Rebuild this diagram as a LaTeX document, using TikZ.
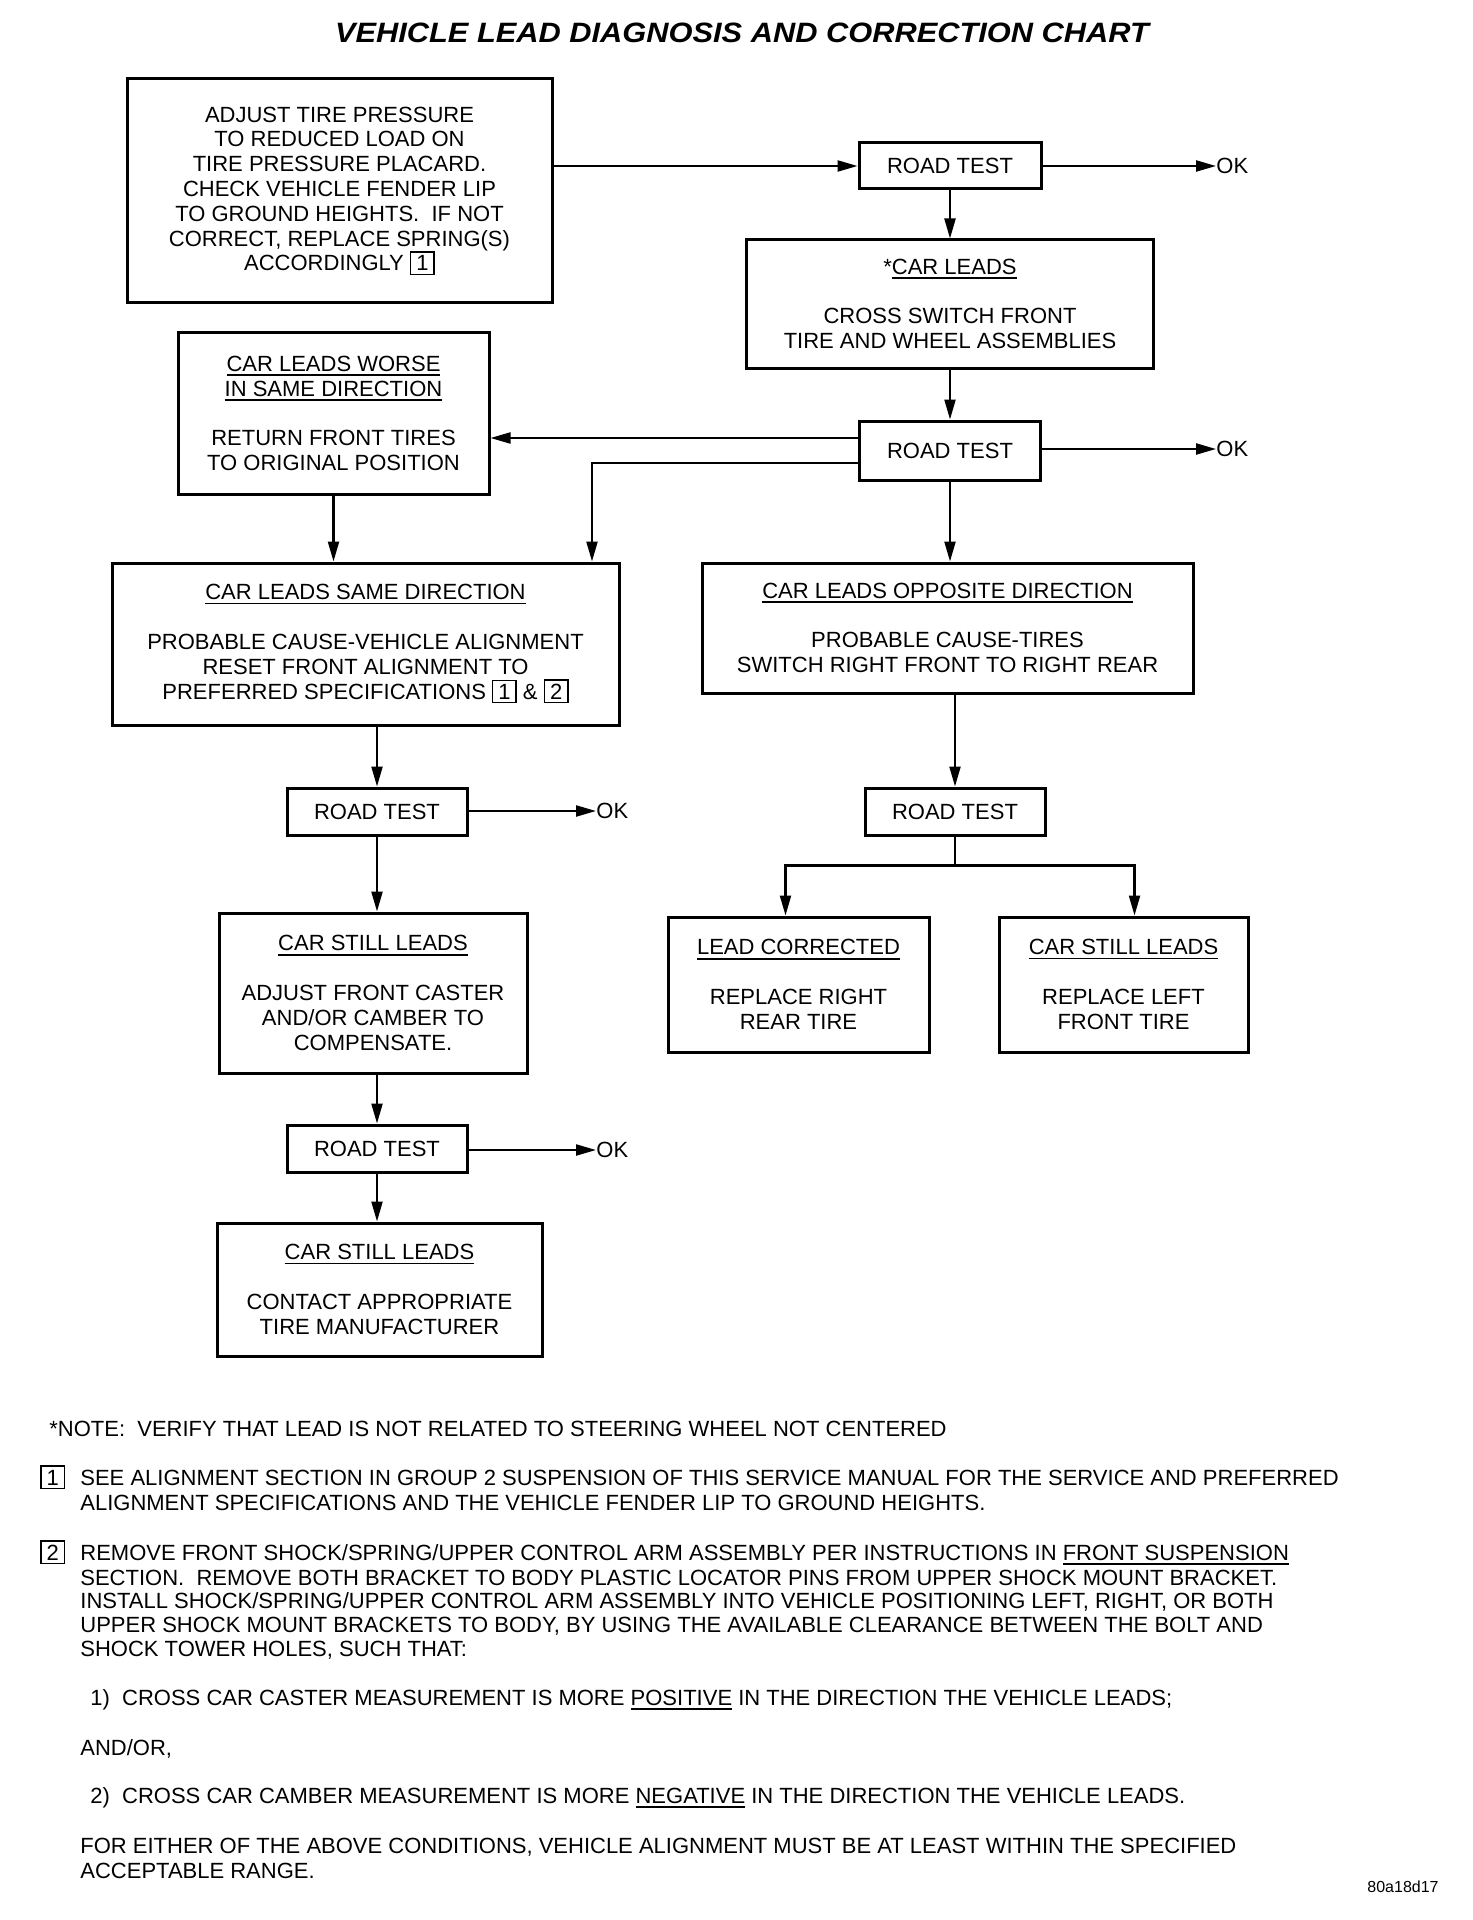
\documentclass[tikz,border=0pt]{standalone}
\usepackage{fontspec}
\setmainfont{Liberation Sans}
\usepackage{graphicx}
\usetikzlibrary{arrows.meta,calc}
\newsavebox\ulbox
\newcommand\ulx[1]{\sbox\ulbox{#1}\rlap{\rule[-2.3pt]{\wd\ulbox}{0.9pt}}\usebox\ulbox}
\newcommand\bx[1]{{\setlength\fboxsep{1.5pt}\setlength\fboxrule{0.7pt}\fbox{\makebox[8pt]{#1}}}}
\begin{document}
\begin{tikzpicture}[x=0.5pt,y=-0.5pt,
  box/.style={draw, line width=1.5pt, inner sep=0pt, align=center, font=\fontsize{11}{12.4}\selectfont},
  sz/.style 2 args={minimum width={#1*0.5pt}, minimum height={#2*0.5pt}},
  arr/.style={line width=1.1pt, -{Triangle[length=10pt,width=5.5pt]}},
  ok/.style={anchor=west, inner sep=0pt, font=\fontsize{11}{12.4}\selectfont},
  note/.style={anchor=base west, inner sep=0pt, font=\fontsize{11}{12.4}\selectfont}]
\fill[white] (0,0) rectangle (1472,1920);
\useasboundingbox (0,0) rectangle (1472,1920);

\node[font=\fontsize{14}{16}\selectfont\bfseries\itshape] (title) at (742,33) {\scalebox{1.1}[1]{VEHICLE LEAD DIAGNOSIS AND CORRECTION CHART}};

\node[box,sz={425}{224}] (A) at (339.5,191) {ADJUST TIRE PRESSURE\\TO REDUCED LOAD ON\\TIRE PRESSURE PLACARD.\\CHECK VEHICLE FENDER LIP\\TO GROUND HEIGHTS.\ \ IF NOT\\CORRECT, REPLACE SPRING(S)\\ACCORDINGLY \bx{1}};
\node[box,sz={182}{46}] (RT1) at (950,166) {ROAD TEST};
\node[box,sz={407}{128}] (CL) at (950,304) {*\ulx{CAR LEADS}\\[12.4pt]CROSS SWITCH FRONT\\TIRE AND WHEEL ASSEMBLIES};
\node[box,sz={311}{161}] (W) at (333.5,413.5) {\ulx{CAR LEADS WORSE}\\\ulx{IN SAME DIRECTION}\\[12.4pt]RETURN FRONT TIRES\\TO ORIGINAL POSITION};
\node[box,sz={181}{59}] (RT2) at (950,450.5) {ROAD TEST};
\node[box,sz={507}{162}] (S) at (365.5,644) {\ulx{CAR LEADS SAME DIRECTION}\\[12.4pt]PROBABLE CAUSE-VEHICLE ALIGNMENT\\RESET FRONT ALIGNMENT TO\\PREFERRED SPECIFICATIONS \bx{1} \& \bx{2}};
\node[box,sz={491}{130}] (O) at (947.5,628) {\ulx{CAR LEADS OPPOSITE DIRECTION}\\[12.4pt]PROBABLE CAUSE-TIRES\\SWITCH RIGHT FRONT TO RIGHT REAR};
\node[box,sz={180}{47}] (RT3) at (377,811.5) {ROAD TEST};
\node[box,sz={180}{47}] (RT4) at (955,811.5) {ROAD TEST};
\node[box,sz={261}{135}] (LC) at (798.5,984.5) {\ulx{LEAD CORRECTED}\\[12.4pt]REPLACE RIGHT\\REAR TIRE};
\node[box,sz={249}{135}] (SR) at (1123.5,984.5) {\ulx{CAR STILL LEADS}\\[12.4pt]REPLACE LEFT\\FRONT TIRE};
\node[box,sz={308}{160}] (SL) at (373,993) {\ulx{CAR STILL LEADS}\\[12.4pt]ADJUST FRONT CASTER\\AND/OR CAMBER TO\\COMPENSATE.};
\node[box,sz={180}{47}] (RT5) at (377,1148.5) {ROAD TEST};
\node[box,sz={325}{133}] (F) at (379.5,1289.5) {\ulx{CAR STILL LEADS}\\[12.4pt]CONTACT APPROPRIATE\\TIRE MANUFACTURER};

\node[ok] (ok1) at (1216,166) {OK};
\node[ok] (ok2) at (1216,449) {OK};
\node[ok] (ok3) at (596,811) {OK};
\node[ok] (ok5) at (596,1150) {OK};

\draw[arr] (A.east |- RT1.west) -- (RT1.west);
\draw[arr] (RT1.east) -- (ok1.west);
\draw[arr] (RT1.south) -- (RT1.south |- CL.north);
\draw[arr] (CL.south) -- (RT2.north);
\coordinate (r2a) at ($(RT2.west)+(0,-12.5)$);
\coordinate (r2b) at ($(RT2.west)+(0,12.5)$);
\draw[arr] (r2a) -- (r2a -| W.east);
\draw[arr] (r2b) -| ($(S.north)+(226.5,0)$);
\draw[arr] (RT2.east |- ok2.west) -- (ok2.west);
\draw[arr] (RT2.south) -- (RT2.south |- O.north);
\draw[arr] (W.south) -- (W.south |- S.north);
\draw[arr] (S.south -| RT3.north) -- (RT3.north);
\draw[arr] (RT3.east |- ok3.west) -- (ok3.west);
\draw[arr] (RT3.south) -- (RT3.south |- SL.north);
\draw[arr] (SL.south -| RT5.north) -- (RT5.north);
\draw[arr] (RT5.east |- ok5.west) -- (ok5.west);
\draw[arr] (RT5.south) -- (RT5.south |- F.north);
\draw[arr] (O.south -| RT4.north) -- (RT4.north);
\coordinate (br) at ($(RT4.south)+(0,29)$);
\draw[line width=1.1pt] (RT4.south) -- (br);
\draw[arr] (br) -| ($(LC.north)+(-13,0)$);
\draw[arr] (br) -| ($(SR.north)+(11,0)$);

\node[note] (n0) at (49,1436) {*NOTE:\ \ VERIFY THAT LEAD IS NOT RELATED TO STEERING WHEEL NOT CENTERED};
\node[note] (b1) at (40,1485) {\bx{1}};
\node[note] (n1a) at (80,1485) {SEE ALIGNMENT SECTION IN GROUP 2 SUSPENSION OF THIS SERVICE MANUAL FOR THE SERVICE AND PREFERRED};
\node[note] (n1b) at (80,1510) {ALIGNMENT SPECIFICATIONS AND THE VEHICLE FENDER LIP TO GROUND HEIGHTS.};
\node[note] (b2) at (40,1560) {\bx{2}};
\node[note] (n2a) at (80,1560) {REMOVE FRONT SHOCK/SPRING/UPPER CONTROL ARM ASSEMBLY PER INSTRUCTIONS IN \ulx{FRONT SUSPENSION}};
\node[note] (n2b) at (80,1585) {SECTION.\ \ REMOVE BOTH BRACKET TO BODY PLASTIC LOCATOR PINS FROM UPPER SHOCK MOUNT BRACKET.};
\node[note] (n2c) at (80,1608) {INSTALL SHOCK/SPRING/UPPER CONTROL ARM ASSEMBLY INTO VEHICLE POSITIONING LEFT, RIGHT, OR BOTH};
\node[note] (n2d) at (80,1632) {UPPER SHOCK MOUNT BRACKETS TO BODY, BY USING THE AVAILABLE CLEARANCE BETWEEN THE BOLT AND};
\node[note] (n2e) at (80,1656) {SHOCK TOWER HOLES, SUCH THAT:};
\node[note] (n3) at (90,1705) {1)\ \ CROSS CAR CASTER MEASUREMENT IS MORE \ulx{POSITIVE} IN THE DIRECTION THE VEHICLE LEADS;};
\node[note] (n4) at (80,1755) {AND/OR,};
\node[note] (n5) at (90,1803) {2)\ \ CROSS CAR CAMBER MEASUREMENT IS MORE \ulx{NEGATIVE} IN THE DIRECTION THE VEHICLE LEADS.};
\node[note] (n6) at (80,1853) {FOR EITHER OF THE ABOVE CONDITIONS, VEHICLE ALIGNMENT MUST BE AT LEAST WITHIN THE SPECIFIED};
\node[note] (n7) at (80,1878) {ACCEPTABLE RANGE.};
\node[anchor=base east, inner sep=0pt, font=\fontsize{8}{9}\selectfont] (code) at (1439,1892) {80a18d17};
\end{tikzpicture}
\end{document}
